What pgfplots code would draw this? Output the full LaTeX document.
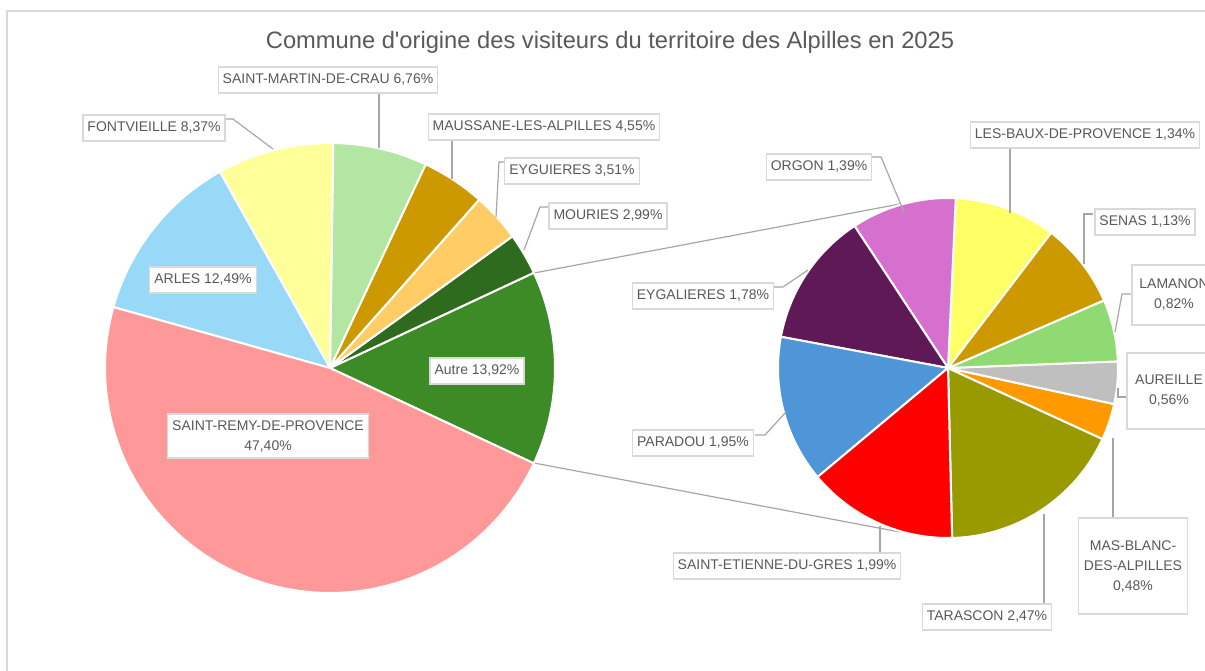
\documentclass[border=0pt]{standalone}
\usepackage{fontspec}
\setmainfont{Liberation Sans}
\usepackage{pgfplots}
\usepackage{pgfplotstable}
\pgfplotsset{compat=1.18}

\definecolor{cStRemy}{HTML}{FF9999}
\definecolor{cArles}{HTML}{97D9F7}
\definecolor{cFontvieille}{HTML}{FFFF99}
\definecolor{cStMartin}{HTML}{B3E6A2}
\definecolor{cMaussane}{HTML}{CC9900}
\definecolor{cEyguieres}{HTML}{FFCC66}
\definecolor{cMouries}{HTML}{2E6B1E}
\definecolor{cAutre}{HTML}{3D8B27}
\definecolor{cOrgon}{HTML}{D670CF}
\definecolor{cLesBaux}{HTML}{FFFF66}
\definecolor{cSenas}{HTML}{CC9900}
\definecolor{cLamanon}{HTML}{8FDA73}
\definecolor{cAureille}{HTML}{BFBFBF}
\definecolor{cMasBlanc}{HTML}{FF9900}
\definecolor{cTarascon}{HTML}{999900}
\definecolor{cStEtienne}{HTML}{FF0000}
\definecolor{cParadou}{HTML}{4F96D8}
\definecolor{cEygalieres}{HTML}{5F1956}
\definecolor{txt}{HTML}{595959}
\definecolor{boxc}{HTML}{D9D9D9}
\definecolor{leader}{HTML}{A6A6A6}

% main pie (counter-clockwise from the "Autre" slice)
\pgfplotstableread{
value col
13.92 cAutre
2.99  cMouries
3.51  cEyguieres
4.55  cMaussane
6.76  cStMartin
8.37  cFontvieille
12.49 cArles
47.40 cStRemy
}\bigpie

% secondary pie: breakdown of "Autre" (counter-clockwise)
\pgfplotstableread{
value col
2.47 cTarascon
0.48 cMasBlanc
0.56 cAureille
0.82 cLamanon
1.13 cSenas
1.34 cLesBaux
1.39 cOrgon
1.78 cEygalieres
1.95 cParadou
1.99 cStEtienne
}\smallpie

% #1 table, #2 cx, #3 cy, #4 radius, #5 start angle
\newcommand\drawpie[5]{%
  \pgfplotstablegetrowsof{#1}%
  \pgfmathtruncatemacro\nrows{\pgfplotsretval-1}%
  \def\tot{0}%
  \pgfplotsforeachungrouped \i in {0,...,\nrows}{%
    \pgfplotstablegetelem{\i}{value}\of{#1}%
    \pgfmathsetmacro\tot{\tot+\pgfplotsretval}}%
  \def\cur{#5}%
  \pgfplotsforeachungrouped \i in {0,...,\nrows}{%
    \pgfplotstablegetelem{\i}{value}\of{#1}%
    \pgfmathsetmacro\nxt{\cur+\pgfplotsretval/\tot*360}%
    \pgfplotstablegetelem{\i}{col}\of{#1}%
    \edef\doslice{\noexpand\addplot[draw=white, line width=2pt, line join=round,
      fill=\pgfplotsretval, domain=\cur:\nxt, samples=90]
      ({#2+#4*cos(x)},{#3-#4*sin(x)}) -- (axis cs:#2,#3) -- cycle;}%
    \doslice
    \let\cur\nxt}%
}

\tikzset{
  lbl/.style={draw=boxc, line width=1.2pt, fill=white, text=txt,
    font=\fontsize{14}{20}\selectfont, inner xsep=4.5pt, inner ysep=6.25pt,
    text height=10.5pt, text depth=3pt},
  mlbl/.style={draw=boxc, line width=1.2pt, fill=white, text=txt,
    font=\fontsize{14}{20}\selectfont, inner xsep=4.5pt, inner ysep=6.25pt, align=center},
  ld/.style={draw=leader, line width=1.2pt}
}

\begin{document}
\begin{tikzpicture}
\useasboundingbox (0,0) rectangle (1205pt,670pt);
\clip (0,0) rectangle (1205pt,670pt);
\begin{axis}[at={(0,0)}, anchor=south west, width=1205pt, height=670pt,
  scale only axis, xmin=0, xmax=1205, ymin=0, ymax=670, y dir=reverse,
  hide axis, clip=false]

% frame
\draw[draw=boxc, line width=1.5pt] (axis cs:7,675) -- (axis cs:7,11) -- (axis cs:1210,11);

% title
\node[text=txt, font=\fontsize{23.7}{28}\selectfont] at (axis cs:610,42)
  {Commune d\textquotesingle origine des visiteurs du territoire des Alpilles en 2025};

% connectors
\draw[ld] (axis cs:534,273) -- (axis cs:900,204);
\draw[ld] (axis cs:534,463) -- (axis cs:900,532);

\drawpie{\bigpie}{330}{368}{225}{-25.06}
\drawpie{\smallpie}{948}{368}{170}{-88.6}

% leader lines
\draw[ld] (axis cs:379,93) -- (axis cs:379,148);
\draw[ld] (axis cs:226,119) -- (axis cs:233,119) -- (axis cs:273,149);
\draw[ld] (axis cs:452,140) -- (axis cs:452,179);
\draw[ld] (axis cs:506,162) -- (axis cs:499,162) -- (axis cs:496,217);
\draw[ld] (axis cs:548,207) -- (axis cs:540,207) -- (axis cs:524,250);
\draw[ld] (axis cs:872,157) -- (axis cs:881,157) -- (axis cs:904,212);
\draw[ld] (axis cs:1010,149) -- (axis cs:1010,213);
\draw[ld] (axis cs:1093,214) -- (axis cs:1084,214) -- (axis cs:1084,264);
\draw[ld] (axis cs:1132,294) -- (axis cs:1122,294) -- (axis cs:1115,332);
\draw[ld] (axis cs:1127,397) -- (axis cs:1118,397) -- (axis cs:1118,388);
\draw[ld] (axis cs:773,287) -- (axis cs:783,287) -- (axis cs:808,270);
\draw[ld] (axis cs:755,435) -- (axis cs:765,435) -- (axis cs:786,412);
\draw[ld] (axis cs:880,553) -- (axis cs:880,526);
\draw[ld] (axis cs:1044,603) -- (axis cs:1044,514);
\draw[ld] (axis cs:1113,520) -- (axis cs:1113,438);

% labels
\node[lbl] at (axis cs:328,80) {SAINT-MARTIN-DE-CRAU 6,76\%};
\node[lbl] at (axis cs:154,128) {FONTVIEILLE 8,37\%};
\node[lbl] at (axis cs:544,127) {MAUSSANE-LES-ALPILLES 4,55\%};
\node[lbl] at (axis cs:572,171) {EYGUIERES 3,51\%};
\node[lbl] at (axis cs:608,216) {MOURIES 2,99\%};
\node[lbl] at (axis cs:203,280) {ARLES 12,49\%};
\node[mlbl] at (axis cs:268,436) {SAINT-REMY-DE-PROVENCE\\47,40\%};
\node[lbl] at (axis cs:477,371) {Autre 13,92\%};
\node[lbl] at (axis cs:819,167) {ORGON 1,39\%};
\node[lbl] at (axis cs:1085,135) {LES-BAUX-DE-PROVENCE 1,34\%};
\node[lbl] at (axis cs:1145,222) {SENAS 1,13\%};
\node[mlbl, minimum width=84pt, minimum height=60pt] at (axis cs:1174,295) {LAMANON\\0,82\%};
\node[mlbl, minimum width=84pt, minimum height=76pt] at (axis cs:1169,391) {AUREILLE\\0,56\%};
\node[lbl] at (axis cs:703,296) {EYGALIERES 1,78\%};
\node[lbl] at (axis cs:693,443) {PARADOU 1,95\%};
\node[lbl] at (axis cs:787,566) {SAINT-ETIENNE-DU-GRES 1,99\%};
\node[lbl] at (axis cs:987,617) {TARASCON 2,47\%};
\node[mlbl, minimum width=109pt, minimum height=96pt] at (axis cs:1133,566) {MAS-BLANC-\\DES-ALPILLES\\0,48\%};
\end{axis}
\end{tikzpicture}
\end{document}
